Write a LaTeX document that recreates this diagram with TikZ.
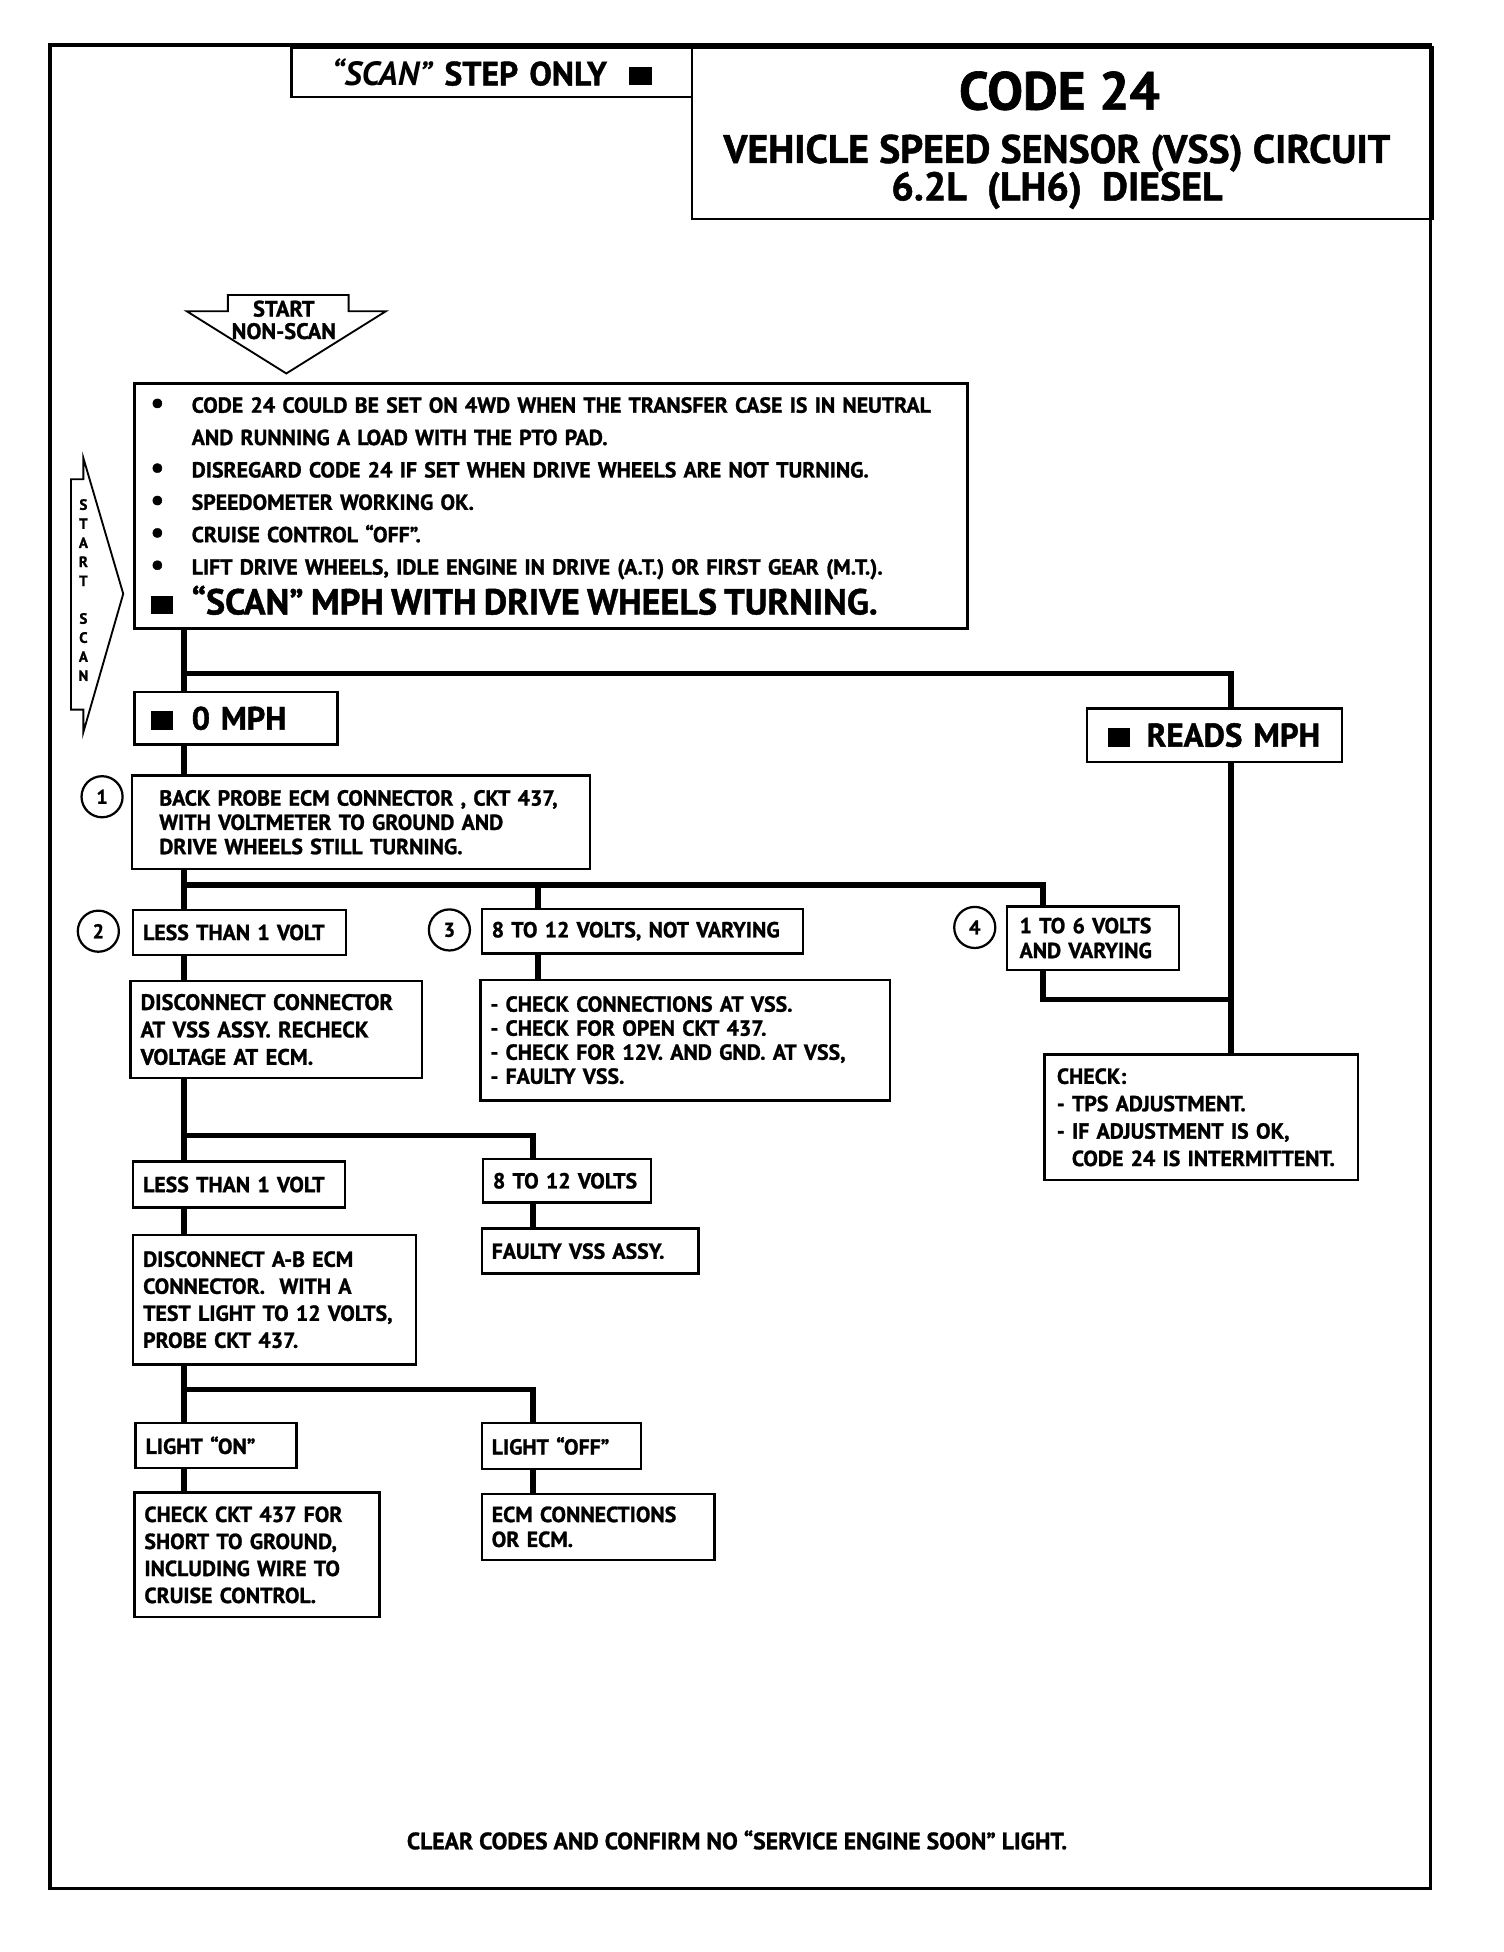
\documentclass[tikz,border=0pt]{standalone}
\usepackage{fontspec}
\setmainfont{PT Sans}[BoldFeatures={FakeBold=1.2}]
\usetikzlibrary{positioning}
\newcommand{\sz}[2]{\fontsize{#1}{#2}\selectfont}
\newcommand{\blk}{\rule{18pt}{15pt}}
\newcommand{\bul}{\makebox[33pt][l]{\sz{24}{26}\textbullet}}

\begin{document}
\begin{tikzpicture}[x=1pt, y=-1pt, font=\bfseries\sz{17.5}{21},
  box/.style={draw, line width=2pt, anchor=north west, align=left, inner xsep=8pt, inner ysep=0pt},
  wire/.style={line width=4.5pt},
  num/.style={circle, draw, line width=1.8pt, minimum size=33pt, inner sep=0pt, font=\bfseries\sz{16}{16}}]
\useasboundingbox (0,0) rectangle (1208,1568);

% frame and heading
\draw[line width=3pt] (40,36) rectangle (1149,1517);
\node[box, align=center, text width=306pt, minimum height=40pt, font=\bfseries\sz{27}{27}] (step) at (233,37) {\textit{“SCAN”} STEP ONLY\ \ \blk};
\node[box, text width=579pt, minimum height=138pt] (title) at (555,37) {};
\node[font=\bfseries\sz{43}{43}] (code) at (851,73) {CODE 24};
\node[font=\bfseries\sz{32}{32}] (vss) at (849,123) {VEHICLE SPEED SENSOR (VSS) CIRCUIT};
\node[font=\bfseries\sz{32}{32}] (eng) at (849,153) {6.2L\ \ (LH6)\ \ DIESEL};

% start arrows
\draw[line width=1.5pt] (150,250) -- (183,250) -- (183,237) -- (280,237) -- (280,250) -- (310,250) -- (230,300) -- cycle;
\node[align=center, font=\bfseries\sz{18}{18}] (nonscan) at (228,257) {START\\NON-SCAN};
\draw[line width=1.5pt] (57,385) -- (67,385) -- (67,368) -- (99,477) -- (67,588) -- (67,570) -- (57,570) -- cycle;
\node[align=center, font=\bfseries\sz{12}{15.3}] (scanlbl) at (67,474) {S\\T\\A\\R\\T\\[15pt]S\\C\\A\\N};

% first checks
\node[box, inner xsep=13pt, text width=643pt, minimum height=197pt, font=\bfseries\sz{17.5}{26}] (main) at (107,307)
  {\bul CODE 24 COULD BE SET ON 4WD WHEN THE TRANSFER CASE IS IN NEUTRAL\\
   \hspace*{33pt}AND RUNNING A LOAD WITH THE PTO PAD.\\
   \bul DISREGARD CODE 24 IF SET WHEN DRIVE WHEELS ARE NOT TURNING.\\
   \bul SPEEDOMETER WORKING OK.\\
   \bul CRUISE CONTROL “OFF”.\\
   \bul LIFT DRIVE WHEELS, IDLE ENGINE IN DRIVE (A.T.) OR FIRST GEAR (M.T.).\\[4pt]
   {\sz{29}{26}\makebox[33pt][l]{\blk}“SCAN” MPH WITH DRIVE WHEELS TURNING.}};

\node[box, inner xsep=13pt, text width=137pt, minimum height=42pt, font=\bfseries\sz{26}{26}] (zero) at (107,555) {\makebox[33pt][l]{\blk}0 MPH};
\node[box, inner xsep=17pt, text width=171pt, minimum height=43pt, font=\bfseries\sz{26.5}{26}] (reads) at (872,568) {\makebox[31pt][l]{\blk}READS MPH};

\node[box, inner xsep=22pt, text width=324pt, minimum height=75pt, font=\bfseries\sz{17.5}{19.5}] (probe) at (105,622)
  {BACK PROBE ECM CONNECTOR , CKT 437,\\WITH VOLTMETER TO GROUND AND\\DRIVE WHEELS STILL TURNING.};

% voltage results
\node[box, text width=155pt, minimum height=36pt] (less1) at (106,730) {LESS THAN 1 VOLT};
\node[box, text width=242pt, minimum height=36pt] (flat) at (386,729) {8 TO 12 VOLTS, NOT VARYING};
\node[box, inner xsep=10pt, text width=118pt, minimum height=51pt, font=\bfseries\sz{17.5}{20}] (vary) at (808,727) {1 TO 6 VOLTS\\AND VARYING};
\node[box, inner xsep=10pt, text width=232pt, minimum height=101pt, font=\bfseries\sz{17.5}{22}] (tps) at (838,846)
  {CHECK:\\- TPS ADJUSTMENT.\\- IF ADJUSTMENT IS OK,\\\hspace*{12pt}CODE 24 IS INTERMITTENT.};

\node[box, text width=218pt, minimum height=78pt, font=\bfseries\sz{18}{22}] (disc) at (104,787)
  {DISCONNECT CONNECTOR\\AT VSS ASSY. RECHECK\\VOLTAGE AT ECM.};
\node[box, text width=313pt, minimum height=97pt, font=\bfseries\sz{17.5}{19.3}] (open) at (385,786)
  {- CHECK CONNECTIONS AT VSS.\\- CHECK FOR OPEN CKT 437.\\- CHECK FOR 12V. AND GND. AT VSS,\\- FAULTY VSS.};

\node[box, text width=154pt, minimum height=37pt] (less2) at (106,932) {LESS THAN 1 VOLT};
\node[box, text width=119pt, minimum height=35pt] (volts) at (387,930) {8 TO 12 VOLTS};
\node[box, text width=158pt, minimum height=36pt] (faulty) at (386,986) {FAULTY VSS ASSY.};

\node[box, text width=211pt, minimum height=104pt, font=\bfseries\sz{17.5}{21.7}] (testlt) at (106,991)
  {DISCONNECT A-B ECM\\CONNECTOR.\ \ WITH A\\TEST LIGHT TO 12 VOLTS,\\PROBE CKT 437.};

\node[box, text width=113pt, minimum height=36pt] (lton) at (108,1142) {LIGHT “ON”};
\node[box, text width=112pt, minimum height=37pt] (ltoff) at (386,1142) {LIGHT “OFF”};
\node[box, text width=181pt, minimum height=100pt, font=\bfseries\sz{17.5}{21.7}] (short) at (107,1198)
  {CHECK CKT 437 FOR\\SHORT TO GROUND,\\INCLUDING WIRE TO\\CRUISE CONTROL.};
\node[box, text width=171pt, minimum height=53pt, font=\bfseries\sz{17.5}{20}] (ecm) at (386,1199)
  {ECM CONNECTIONS\\OR ECM.};

% step numbers
\foreach \n/\x/\y in {1/82/640, 2/79/748, 3/361/747, 4/783/745} {
\node[num] (c\n) at (\x,\y) {\n};
}

% connectors
\coordinate (sp) at (148,0);
\coordinate (rx) at (989,0);
\coordinate (x3) at (432,0);
\coordinate (x4) at (838,0);
\coordinate (mx) at (428,0);
\coordinate (j1) at (148,541);
\coordinate (j2) at (148,711);
\coordinate (j3) at (148,912);
\coordinate (j4) at (148,1116);
\coordinate (j5) at (989,803);

\draw[wire] (main.south -| sp) -- (zero.north -| sp);
\draw[wire] (j1) -| (rx |- reads.north);
\draw[wire] (reads.south -| rx) -- (tps.north -| rx);
\draw[wire] (zero.south -| sp) -- (probe.north -| sp);
\draw[wire] (probe.south -| sp) -- (less1.north -| sp);
\draw[wire] (j2) -| (x4 |- vary.north);
\draw[wire] (j2 -| x3) -- (x3 |- flat.north);
\draw[wire] (vary.south -| x4) |- (j5);
\draw[wire] (less1.south -| sp) -- (disc.north -| sp);
\draw[wire] (flat.south -| x3) -- (open.north -| x3);
\draw[wire] (disc.south -| sp) -- (less2.north -| sp);
\draw[wire] (j3) -| (mx |- volts.north);
\draw[wire] (volts.south -| mx) -- (faulty.north -| mx);
\draw[wire] (less2.south -| sp) -- (testlt.north -| sp);
\draw[wire] (testlt.south -| sp) -- (lton.north -| sp);
\draw[wire] (j4) -| (mx |- ltoff.north);
\draw[wire] (lton.south -| sp) -- (short.north -| sp);
\draw[wire] (ltoff.south -| mx) -- (ecm.north -| mx);

\node[font=\bfseries\sz{19}{19}] (foot) at (592,1478) {CLEAR CODES AND CONFIRM NO “SERVICE ENGINE SOON” LIGHT.};
\end{tikzpicture}
\end{document}
